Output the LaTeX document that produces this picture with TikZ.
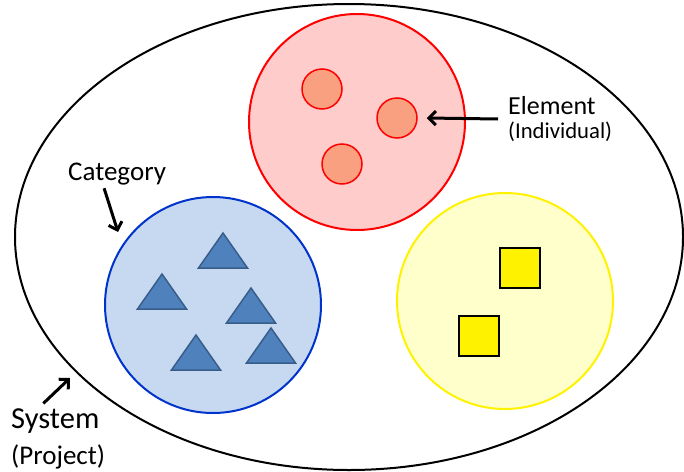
\documentclass[tikz,border=0pt]{standalone}
\usepackage{fontspec}
\setmainfont{Carlito}
\usetikzlibrary{arrows.meta}

\definecolor{groupred}{RGB}{255,204,204}
\definecolor{itemred}{RGB}{249,160,128}
\definecolor{groupblue}{RGB}{198,217,241}
\definecolor{lineblue}{RGB}{0,51,204}
\definecolor{itemblue}{RGB}{79,129,189}
\definecolor{edgeblue}{RGB}{56,93,138}
\definecolor{groupyellow}{RGB}{255,255,204}

\tikzset{
  group/.style={circle, line width=2pt, minimum size=216pt, inner sep=0pt},
  dot/.style={circle, draw=red, fill=itemred, line width=1.5pt, minimum size=40pt, inner sep=0pt},
  box/.style={rectangle, draw=black, fill=yellow, line width=2pt, minimum size=40pt, inner sep=0pt},
  tri/.style={draw=edgeblue, fill=itemblue, line width=1.5pt, line join=miter},
  label/.style={inner sep=0pt, anchor=west, font=\fontsize{26}{30}\selectfont},
  sublabel/.style={inner sep=0pt, anchor=west, font=\fontsize{22.7}{26}\selectfont},
  pointer/.style={line width=3pt, -{Straight Barb[length=7pt,width=14pt]}}
}

\begin{document}
\begin{tikzpicture}[x=1pt,y=-1pt]
        \useasboundingbox (0,0) rectangle (684,471);

        % system
        \draw[line width=2pt] (349,237) ellipse [x radius=334pt, y radius=233pt];

        % categories
        \node (red) at (357,122) [group, draw=red, fill=groupred] {};
        \node (blue) at (213,305) [group, draw=lineblue, fill=groupblue] {};
        \node (yel) at (505,301) [group, draw=yellow, fill=groupyellow] {};

        % elements
        \node (c1) at (322,89) [dot] {};
        \node (c2) at (397,118) [dot] {};
        \node (c3) at (342,164) [dot] {};

        \foreach \x/\y in {223/233, 162/274, 251/288, 196/335, 271/328}
            \draw[tri] (\x,\y) -- ++(-24.5,35) -- ++(49,0) -- cycle;

        \node (s1) at (519.5,267.5) [box] {};
        \node (s2) at (478.5,335.5) [box] {};

        % labels
        \node (elem) at (508,106) [label] {Element};
        \node (elemsub) at (508,132) [sublabel] {(Individual)};
        \node (cat) at (68,174) [label, font=\fontsize{27}{30}\selectfont] {Category};
        \node (sys) at (11,421) [label, font=\fontsize{30.5}{34}\selectfont] {System};
        \node (syssub) at (11,457) [sublabel, font=\fontsize{27}{30}\selectfont] {(Project)};

        \coordinate (cattip) at (118,232);
        \coordinate (systip) at (70,378);

        \draw[pointer] ([xshift=-10pt,yshift=-13pt]elem.west) -- ([xshift=9pt]c2.east);
        \draw[pointer] ([xshift=-13pt,yshift=-3pt]cat.south) -- (cattip);
        \draw[pointer] ([xshift=-12pt,yshift=5pt]sys.north) -- (systip);
    \end{tikzpicture}
\end{document}
